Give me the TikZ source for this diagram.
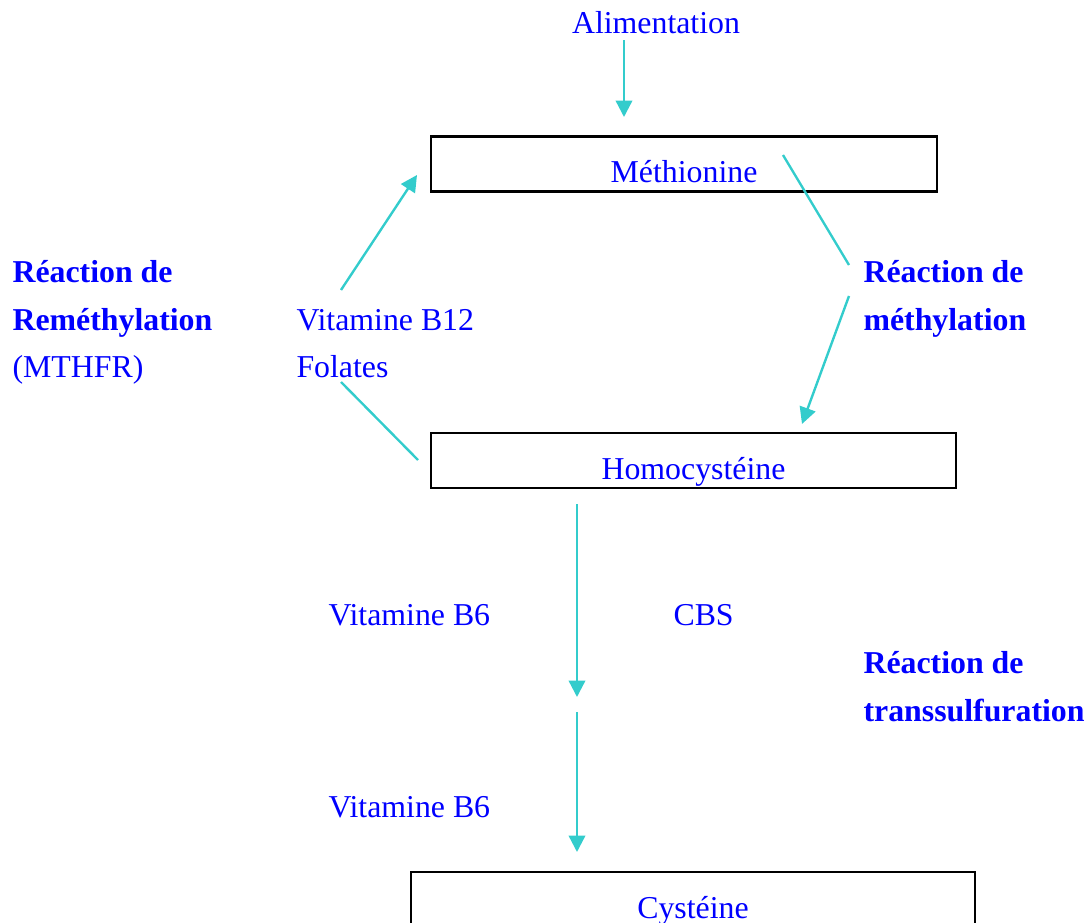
\documentclass[tikz,border=0pt]{standalone}
\usepackage{fontspec}
\setmainfont{Liberation Serif}
\usetikzlibrary{arrows.meta}
\definecolor{flux}{RGB}{51,204,204}
\begin{document}
\begin{tikzpicture}[x=0.377pt,y=-0.377pt,
    txt/.style={anchor=base west,inner sep=0pt,text=blue,font=\fontsize{12}{14}\selectfont},
    bld/.style={txt,font=\fontsize{12}{14}\selectfont\bfseries},
    box/.style={draw,line width=1pt,inner sep=0pt,text=blue,font=\fontsize{12}{14}\selectfont,
        text height=17.4pt,text depth=3.4pt},
    fl/.style={draw=flux,line width=0.9pt},
    fla/.style={fl,-{Triangle[length=6.2pt,width=6.2pt]}}]
    \clip (0,0) rectangle (1087,923);
    %% Boxes
    \node[box,minimum width={506*0.377pt}] (meth) at (684,164) {Méthionine};
    \node[box,minimum width={525*0.377pt}] (homo) at (693.5,460.5) {Homocystéine};
    \node[box,minimum width={564*0.377pt}] (cys) at (693,899.5) {Cystéine};
    %% Labels
    \node[txt,anchor=base] (alim) at (656,34) {Alimentation};
    \node[bld] (rem1) at (12,282) {Réaction de};
    \node[bld] (rem2) at (12,330) {Reméthylation};
    \node[txt] (mthfr) at (12,377) {(MTHFR)};
    \node[txt] (b12) at (296,330) {Vitamine B12};
    \node[txt] (fol) at (296,377) {Folates};
    \node[bld] (met1) at (863,282) {Réaction de};
    \node[bld] (met2) at (863,330) {méthylation};
    \node[txt] (b6a) at (328,625) {Vitamine B6};
    \node[txt] (cbs) at (673,625) {CBS};
    \node[bld] (tr1) at (863,673) {Réaction de};
    \node[bld] (tr2) at (863,721) {transsulfuration};
    \node[txt] (b6b) at (328,817) {Vitamine B6};
    %% Connectors
    \coordinate (a0) at (624,40);   \coordinate (a1) at (624,117);
    \coordinate (l0) at (341,290);  \coordinate (l1) at (417,175);
    \coordinate (l2) at (341,382);  \coordinate (l3) at (418,460);
    \coordinate (r0) at (783,155);  \coordinate (r1) at (849,265);
    \coordinate (r2) at (849,296);  \coordinate (r3) at (802,424);
    \coordinate (v0) at (577,504);  \coordinate (v1) at (577,697);
    \coordinate (v2) at (577,712);  \coordinate (v3) at (577,852);
    \draw[fla] (a0) -- (a1);
    \draw[fla] (l0) -- (l1);
    \draw[fl] (l2) -- (l3);
    \draw[fl] (r0) -- (r1);
    \draw[fla] (r2) -- (r3);
    \draw[fla] (v0) -- (v1);
    \draw[fla] (v2) -- (v3);
\end{tikzpicture}
\end{document}
